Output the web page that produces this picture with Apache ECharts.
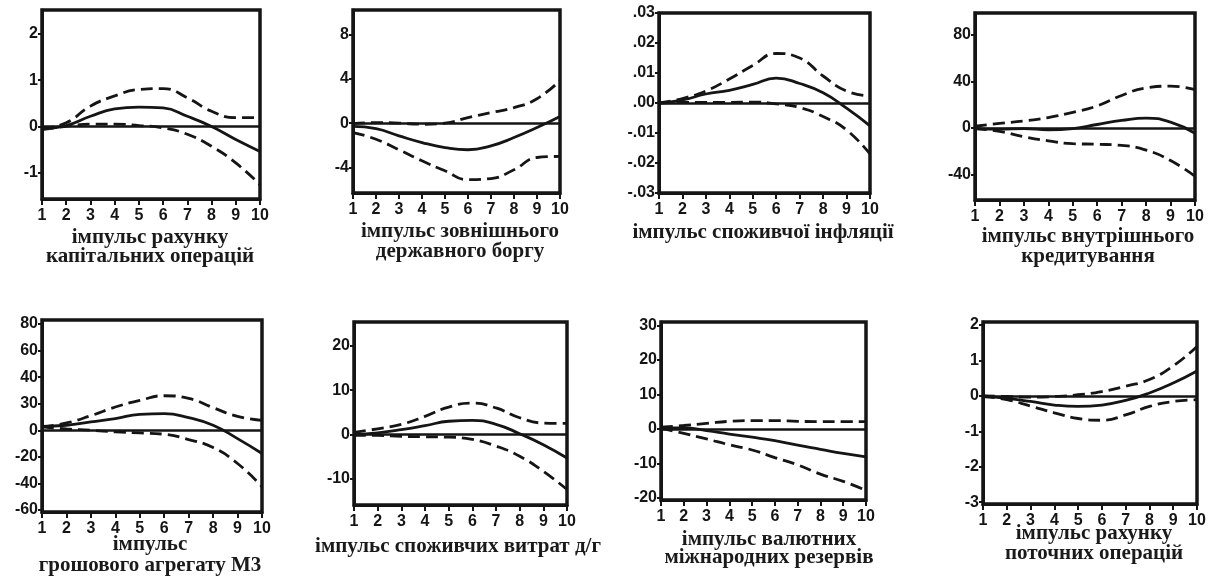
<!DOCTYPE html>
<html>
<head>
<meta charset="utf-8">
<script src="https://cdn.jsdelivr.net/npm/echarts@6/dist/echarts.min.js"></script>
<style>
  html, body { margin: 0; padding: 0; background: #fff; }
  #chart { width: 1211px; height: 584px; }
</style>
</head>
<body>
<div id="chart"></div>
<script>
// періоди (кроки відгуку)
var steps = [1, 2, 3, 4, 5, 6, 7, 8, 9, 10];

// 1. рахунок капітальних операцій
var capResp = [-0.05, 0.02, 0.22, 0.38, 0.42, 0.40, 0.22, 0.00, -0.28, -0.54];
var capUp   = [-0.05, 0.08, 0.44, 0.66, 0.80, 0.82, 0.62, 0.33, 0.19, 0.19];
var capLo   = [-0.07, 0.00, 0.05, 0.05, 0.02, -0.03, -0.17, -0.43, -0.79, -1.26];

// 2. зовнішній державний борг
var debtResp = [-0.3, -0.5, -1.15, -1.75, -2.2, -2.4, -2.05, -1.3, -0.4, 0.6];
var debtUp   = [-0.05, 0.05, 0.0, -0.1, 0.0, 0.5, 0.95, 1.4, 2.2, 3.85];
var debtLo   = [-0.85, -1.45, -2.4, -3.4, -4.3, -5.1, -5.0, -4.2, -3.1, -3.0];

// 3. споживча інфляція
var infResp = [0, 0.001, 0.003, 0.0042, 0.0062, 0.0083, 0.0065, 0.0034, -0.0017, -0.0076];
var infUp   = [0, 0.0015, 0.004, 0.008, 0.0125, 0.0165, 0.015, 0.009, 0.004, 0.0023];
var infLo   = [0, 0.0002, 0.0002, 0.0002, 0.0003, -0.0003, -0.0015, -0.0045, -0.009, -0.017];

// 4. внутрішнє кредитування
var credResp = [-0.5, -1, -0.5, -1.5, -0.5, 3, 6.5, 8.5, 5, -4.5];
var credUp   = [1.5, 4, 6, 9, 13.5, 19, 28, 34.5, 36, 33];
var credLo   = [-0.5, -3, -7.5, -11, -13.5, -14, -15, -19, -28, -41.5];

// 5. грошовий агрегат М3
var m3Resp = [3, 3.8, 6.3, 8.8, 12, 12.5, 9.5, 3.8, -6.3, -17.5];
var m3Up   = [2.5, 5.5, 11, 17.5, 22.5, 26, 24, 17, 10.5, 7.5];
var m3Lo   = [2.5, 1, 0, -1.2, -2, -3, -7, -13, -25, -42.5];

// 6. споживчі витрати д/г
var consResp = [0, 0.4, 1.1, 2, 3, 3.2, 2.3, 0.2, -2.3, -5.3];
var consUp   = [0.5, 1.3, 2.3, 4.1, 6.2, 7.1, 6, 3.8, 2.6, 2.5];
var consLo   = [-0.2, -0.2, -0.4, -0.5, -0.6, -1.1, -2.6, -4.9, -8.3, -12.4];

// 7. валютні міжнародні резерви
var resResp = [0.3, 0.3, -0.5, -1.5, -2.4, -3.4, -4.7, -5.9, -7.1, -8.1];
var resUp   = [0.5, 1, 1.6, 2.2, 2.4, 2.4, 2.2, 2.1, 2.1, 2.1];
var resLo   = [0.2, -1.3, -2.9, -4.6, -6.1, -8.3, -10.4, -13.1, -15.2, -17.8];

// 8. рахунок поточних операцій
var curResp = [0, -0.07, -0.16, -0.26, -0.3, -0.26, -0.13, 0.08, 0.36, 0.7];
var curUp   = [0, -0.02, -0.04, -0.02, 0.03, 0.12, 0.27, 0.46, 0.84, 1.39];
var curLo   = [-0.02, -0.11, -0.29, -0.48, -0.64, -0.69, -0.54, -0.3, -0.16, -0.11];

// поділки осі Y
var capTicks  = [-1, 0, 1, 2];
var debtTicks = [-4, 0, 4, 8];
var infTicks  = [-0.03, -0.02, -0.01, 0, 0.01, 0.02, 0.03];
var infLabels = ['-.03', '-.02', '-.01', '.00', '.01', '.02', '.03'];
var credTicks = [-40, 0, 40, 80];
var m3Ticks   = [-60, -40, -20, 0, 20, 40, 60, 80];
var m3Labels  = ['-60', '-40', '-20', '0', '30', '40', '60', '80'];
var consTicks = [-10, 0, 10, 20];
var resTicks  = [-20, -10, 0, 10, 20, 30];
var curTicks  = [-3, -2, -1, 0, 1, 2];

// підписи
var titles = [
    ['імпульс рахунку', 'капітальних операцій'],
    ['імпульс зовнішнього', 'державного боргу'],
    ['імпульс споживчої інфляції'],
    ['імпульс внутрішнього', 'кредитування'],
    ['імпульс', 'грошового агрегату М3'],
    ['імпульс споживчих витрат д/г'],
    ['імпульс валютних', 'міжнародних резервів'],
    ['імпульс рахунку', 'поточних операцій']
];

var panels = [
    {resp: capResp, up: capUp, lo: capLo, ticks: capTicks, min: -1.57, max: 2.52,
     grid: [42, 10, 218, 189], tx: 150, ty: [238, 257]},
    {resp: debtResp, up: debtUp, lo: debtLo, ticks: debtTicks, min: -6.3, max: 10.2,
     grid: [353, 10, 207, 183], tx: 460, ty: [232, 252]},
    {resp: infResp, up: infUp, lo: infLo, ticks: infTicks, labels: infLabels, min: -0.03, max: 0.03,
     grid: [659, 13, 211, 180], tx: 763, ty: [233]},
    {resp: credResp, up: credUp, lo: credLo, ticks: credTicks, min: -62, max: 99,
     grid: [975, 13, 220, 187], tx: 1088, ty: [237, 257]},
    {resp: m3Resp, up: m3Up, lo: m3Lo, ticks: m3Ticks, labels: m3Labels, min: -61.5, max: 83,
     grid: [42, 320, 220, 192], tx: 150, ty: [545, 566]},
    {resp: consResp, up: consUp, lo: consLo, ticks: consTicks, min: -15.9, max: 25.4,
     grid: [354, 322, 213, 183], tx: 458, ty: [547]},
    {resp: resResp, up: resUp, lo: resLo, ticks: resTicks, min: -20.6, max: 31,
     grid: [661, 322, 205, 178], tx: 769, ty: [540, 558]},
    {resp: curResp, up: curUp, lo: curLo, ticks: curTicks, min: -3.05, max: 2.08,
     grid: [983, 322, 214, 182], tx: 1094, ty: [534, 554]}
];

function pairs(vals) {
    return steps.map(function (s, i) { return [s, vals[i]]; });
}

var ink = '#151515';
var labelFont = {color: ink, fontFamily: 'Liberation Sans', fontWeight: 'bold', fontSize: 16};

var grids = [], xAxes = [], yAxes = [], series = [], graphics = [];

panels.forEach(function (p, k) {
    grids.push({
        left: p.grid[0], top: p.grid[1], width: p.grid[2], height: p.grid[3],
        show: true, borderColor: ink, borderWidth: 3.5, containLabel: false
    });
    xAxes.push({
        type: 'value', gridIndex: k, min: 1, max: 10, interval: 1,
        splitLine: {show: false},
        axisLine: {show: true, onZero: false, lineStyle: {color: ink, width: 3}},
        axisTick: {show: true, inside: false, length: 6, lineStyle: {color: ink, width: 2}},
        axisLabel: Object.assign({margin: 9}, labelFont)
    });
    var labs = p.labels;
    var tks = p.ticks;
    yAxes.push({
        type: 'value', gridIndex: k, min: p.min, max: p.max,
        splitLine: {show: false},
        axisLine: {show: true, onZero: false, lineStyle: {color: ink, width: 3}},
        axisTick: {show: true, inside: false, length: 4, customValues: tks, lineStyle: {color: ink, width: 2}},
        axisLabel: Object.assign({
            margin: 4, customValues: tks,
            formatter: function (v) {
                if (!labs) return String(v);
                for (var i = 0; i < tks.length; i++) {
                    if (Math.abs(tks[i] - v) < 1e-9) return labs[i];
                }
                return String(v);
            }
        }, labelFont)
    });
    series.push({
        type: 'line', xAxisIndex: k, yAxisIndex: k, data: pairs(p.resp),
        smooth: true, symbol: 'none', lineStyle: {color: ink, width: 2.8},
        markLine: {
            silent: true, symbol: 'none', label: {show: false},
            lineStyle: {color: ink, width: 2.5, type: 'solid'},
            data: [{yAxis: 0}]
        },
        z: 3
    });
    [p.up, p.lo].forEach(function (band) {
        series.push({
            type: 'line', xAxisIndex: k, yAxisIndex: k, data: pairs(band),
            smooth: true, symbol: 'none',
            lineStyle: {color: ink, width: 2.8, type: [12, 6]},
            z: 3
        });
    });
    titles[k].forEach(function (line, j) {
        graphics.push({
            type: 'text', x: p.tx, y: p.ty[j],
            style: {
                text: line,
                fill: '#1a1a1a',
                font: 'bold 21px "Liberation Serif"',
                align: 'center', verticalAlign: 'middle',
                textAlign: 'center', textVerticalAlign: 'middle'
            }
        });
    });
});

var chart = echarts.init(document.getElementById('chart'));
chart.setOption({
    animation: false,
    backgroundColor: '#fff',
    grid: grids,
    xAxis: xAxes,
    yAxis: yAxes,
    series: series,
    graphic: graphics
});
</script>
</body>
</html>
